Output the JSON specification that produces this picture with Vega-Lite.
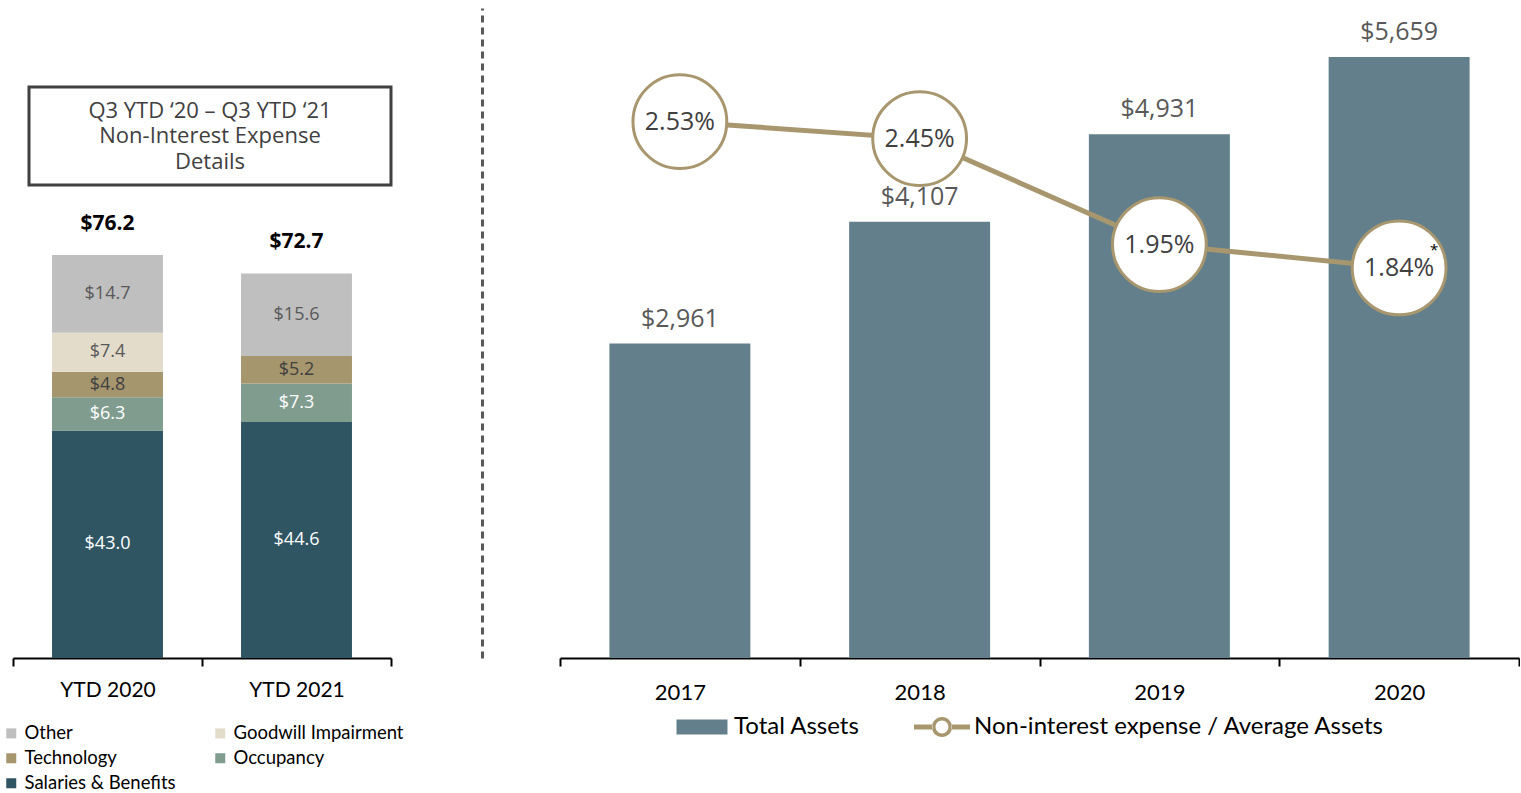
{
  "$schema": "https://vega.github.io/schema/vega-lite/v6.json",
  "padding": {"left": 0, "top": 19, "right": 0, "bottom": 0},
  "autosize": {"type": "pad"},
  "background": "white",
  "bounds": "flush",
  "spacing": 169,
  "config": {"view": {"stroke": null}, "font": "Open Sans"},
  "resolve": {"scale": {"color": "independent", "fill": "independent"}, "legend": {"color": "independent", "fill": "independent"}},
  "hconcat": [
    {
      "width": 362,
      "height": 98,
      "view": {"stroke": "#404040", "strokeWidth": 3},
      "layer": [
        {
          "data": {"values": [{"box": "title"}]},
          "mark": {"type": "text", "font": "Open Sans", "fontSize": 22, "color": "#404040", "lineHeight": 25.5, "baseline": "middle", "align": "center", "dy": -25.5},
          "encoding": {"text": {"value": ["Q3 YTD ‘20 – Q3 YTD ‘21", "Non-Interest Expense", "Details"]}}
        },
        {
          "data": {"values": [
            {"period": "YTD 2020", "category": "Salaries & Benefits", "value": 43.0, "rank": 1},
            {"period": "YTD 2020", "category": "Occupancy", "value": 6.3, "rank": 2},
            {"period": "YTD 2020", "category": "Technology", "value": 4.8, "rank": 3},
            {"period": "YTD 2020", "category": "Goodwill Impairment", "value": 7.4, "rank": 4},
            {"period": "YTD 2020", "category": "Other", "value": 14.7, "rank": 5},
            {"period": "YTD 2021", "category": "Salaries & Benefits", "value": 44.6, "rank": 1},
            {"period": "YTD 2021", "category": "Occupancy", "value": 7.3, "rank": 2},
            {"period": "YTD 2021", "category": "Technology", "value": 5.2, "rank": 3},
            {"period": "YTD 2021", "category": "Other", "value": 15.6, "rank": 5}
          ]},
          "transform": [{"stack": "value", "groupby": ["period"], "sort": [{"field": "rank", "order": "ascending"}], "as": ["v0", "v1"]}],
          "layer": [
            {
              "mark": {"type": "bar", "width": {"band": 0.587}},
              "encoding": {
                "x": {"field": "period", "type": "nominal", "sort": ["YTD 2020", "YTD 2021"], "scale": {"paddingInner": 0, "paddingOuter": 0, "range": [-16, 362]},
                  "axis": {"title": null, "offset": 473, "tickBand": "extent", "domainColor": "#000", "domainWidth": 2, "tickColor": "#000", "tickWidth": 2, "tickSize": 8, "labelFont": "Lato", "labelFontSize": 21, "labelColor": "#000", "labelPadding": 13, "labelAngle": 0}},
                "y": {"field": "v1", "type": "quantitative", "scale": {"domain": [0, 100], "range": [571, 42], "nice": false, "zero": true}, "axis": null},
                "y2": {"field": "v0"},
                "fill": {"field": "category", "type": "nominal",
                  "scale": {"domain": ["Other", "Technology", "Salaries & Benefits", "Goodwill Impairment", "Occupancy"], "range": ["#BFBFBF", "#A6966E", "#2F5563", "#E3DCCB", "#7F9C8F"]},
                  "legend": {"title": null, "orient": "none", "legendX": -27, "legendY": 637, "columns": 2, "symbolType": "square", "symbolSize": 100, "symbolStrokeWidth": 0, "labelFont": "Lato", "labelFontSize": 18.5, "labelColor": "#000", "labelOffset": 4, "columnPadding": 35, "rowPadding": 6, "labelLimit": 300, "padding": 0}}
              }
            },
            {
              "transform": [{"fold": ["v0", "v1"], "as": ["k", "pos"]}],
              "mark": {"type": "text", "font": "Open Sans", "fontSize": 18, "baseline": "middle"},
              "encoding": {
                "x": {"field": "period", "type": "nominal", "sort": ["YTD 2020", "YTD 2021"]},
                "y": {"field": "pos", "type": "quantitative", "aggregate": "mean", "stack": null},
                "text": {"field": "value", "type": "quantitative", "format": "$.1f"},
                "color": {"field": "category", "type": "nominal",
                  "scale": {"domain": ["Other", "Goodwill Impairment", "Technology", "Occupancy", "Salaries & Benefits"], "range": ["#595959", "#595959", "#404040", "#FFFFFF", "#FFFFFF"]},
                  "legend": null}
              }
            },
            {
              "mark": {"type": "text", "font": "Open Sans", "fontSize": 21, "fontWeight": "bold", "color": "#000", "baseline": "middle", "dy": -31},
              "encoding": {
                "x": {"field": "period", "type": "nominal", "sort": ["YTD 2020", "YTD 2021"]},
                "y": {"field": "value", "type": "quantitative", "aggregate": "sum", "stack": null},
                "text": {"field": "value", "type": "quantitative", "aggregate": "sum", "format": "$.1f"}
              }
            }
          ]
        }
      ]
    },
    {
      "width": 959,
      "height": 571,
      "data": {"values": [
        {"year": "2017", "assets": 2961, "ratio": 0.0253, "note": ""},
        {"year": "2018", "assets": 4107, "ratio": 0.0245, "note": ""},
        {"year": "2019", "assets": 4931, "ratio": 0.0195, "note": ""},
        {"year": "2020", "assets": 5659, "ratio": 0.0184, "note": "*"}
      ]},
      "layer": [
        {
          "layer": [
            {
              "mark": {"type": "bar", "width": {"band": 0.588}},
              "encoding": {
                "x": {"field": "year", "type": "nominal", "scale": {"paddingInner": 0, "paddingOuter": 0},
                  "axis": {"title": null, "tickBand": "extent", "domainColor": "#000", "domainWidth": 2, "tickColor": "#000", "tickWidth": 2, "tickSize": 8, "labelFont": "Lato", "labelFontSize": 22, "labelColor": "#000", "labelPadding": 16, "labelAngle": 0}},
                "y": {"field": "assets", "type": "quantitative", "scale": {"domain": [0, 6120], "range": [571, -79], "nice": false},
                  "axis": {"orient": "left", "offset": 78, "domainDash": [7, 5], "domainColor": "#595959", "domainWidth": 3, "ticks": false, "labels": false, "grid": false, "title": null}},
                "color": {"datum": "Total Assets", "type": "nominal",
                  "scale": {"domain": ["Total Assets", "Non-interest expense / Average Assets"], "range": ["#627F8B", "#A8976E"]},
                  "legend": {"title": null, "orient": "none", "legendX": 114, "legendY": 612, "direction": "horizontal", "symbolSize": 3136, "symbolStrokeWidth": 0, "labelFont": "Lato", "labelFontSize": 24, "labelColor": "#000", "labelOffset": 4, "columnPadding": 54, "labelLimit": 600, "padding": 0,
                    "encode": {"symbols": {"update": {
                      "shape": {"signal": "datum.value === 'Total Assets' ? 'M-0.91,-0.27H0.91V0.27H-0.91Z' : 'M-1,-0.09H-0.34V0.09H-1Z M0.34,-0.09H1V0.09H0.34Z M-0.36,0A0.36,0.36,0,1,0,0.36,0A0.36,0.36,0,1,0,-0.36,0Z M-0.23,0A0.23,0.23,0,1,1,0.23,0A0.23,0.23,0,1,1,-0.23,0Z'"},
                      "strokeWidth": {"value": 0},
                      "opacity": {"value": 1}
                    }}}}}
              }
            },
            {
              "mark": {"type": "text", "font": "Open Sans", "fontSize": 25, "color": "#595959", "dy": -25, "baseline": "middle"},
              "encoding": {
                "x": {"field": "year", "type": "nominal"},
                "y": {"field": "assets", "type": "quantitative"},
                "text": {"field": "assets", "type": "quantitative", "format": "$,.0f"}
              }
            }
          ]
        },
        {
          "layer": [
            {
              "mark": {"type": "line", "strokeWidth": 5},
              "encoding": {
                "x": {"field": "year", "type": "nominal"},
                "y": {"field": "ratio", "type": "quantitative", "scale": {"domain": [0, 0.03066], "range": [571, -79], "nice": false}, "axis": null},
                "color": {"datum": "Non-interest expense / Average Assets", "type": "nominal"}
              }
            },
            {
              "mark": {"type": "point", "filled": true, "fill": "#FFFFFF", "stroke": "#A8976E", "strokeWidth": 3, "size": 8800, "opacity": 1},
              "encoding": {
                "x": {"field": "year", "type": "nominal"},
                "y": {"field": "ratio", "type": "quantitative"}
              }
            },
            {
              "mark": {"type": "text", "font": "Open Sans", "fontSize": 25, "color": "#404040", "baseline": "middle"},
              "encoding": {
                "x": {"field": "year", "type": "nominal"},
                "y": {"field": "ratio", "type": "quantitative"},
                "text": {"field": "ratio", "type": "quantitative", "format": ".2%"}
              }
            },
            {
              "mark": {"type": "text", "font": "Open Sans", "fontSize": 15, "color": "#000", "baseline": "middle", "dx": 35, "dy": -18},
              "encoding": {
                "x": {"field": "year", "type": "nominal"},
                "y": {"field": "ratio", "type": "quantitative"},
                "text": {"field": "note", "type": "nominal"}
              }
            }
          ]
        }
      ],
      "resolve": {"scale": {"y": "independent"}}
    }
  ]
}
